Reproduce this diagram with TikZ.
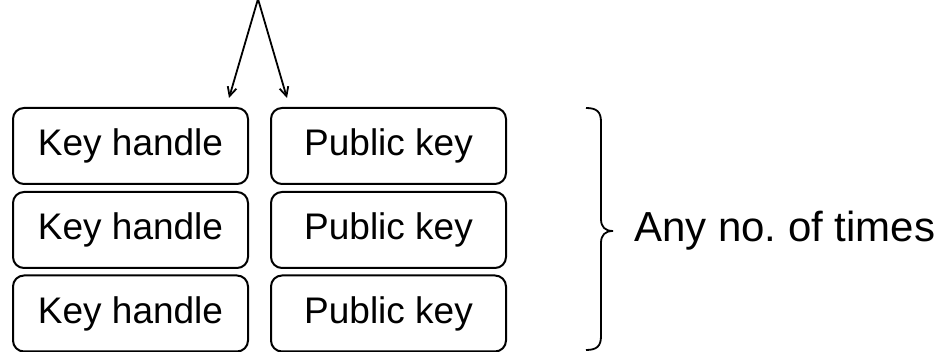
\documentclass[tikz,border=0pt]{standalone}
\usepackage{fontspec}
\setmainfont{Liberation Sans}
\usetikzlibrary{arrows.meta}
\begin{document}
\begin{tikzpicture}[x=1pt,y=-1pt,
  keybox/.style={draw, line width=2pt, rounded corners=11pt, minimum width=235pt,
    minimum height=76pt, inner sep=0pt, font=\fontsize{37}{41}\selectfont},
  link/.style={line width=1.8pt, -{Straight Barb[length=9pt,width=9pt,line width=1.8pt]}},
  bracepath/.style={line width=1.8pt}]
\useasboundingbox (0,0) rectangle (946,352);
% two columns of record boxes
\node[keybox] (kh1) at (130.5,146) {Key handle};
\node[keybox] (kh2) at (130.5,230) {Key handle};
\node[keybox] (kh3) at (130.5,313.5) {Key handle};
\node[keybox] (pk1) at (388.5,146) {Public key};
\node[keybox] (pk2) at (388.5,230) {Public key};
\node[keybox] (pk3) at (388.5,313.5) {Public key};
% incoming pair of arrows
\coordinate (apex) at (258,-1);
\coordinate (toleft) at (229,98);
\coordinate (toright) at (287,98);
\draw[link] (apex) -- (toleft);
\draw[link] (apex) -- (toright);
% curly brace and its label
\coordinate (btop) at (586,108);
\coordinate (btip) at (613,231);
\coordinate (bbot) at (586,350);
\draw[bracepath] (btop) .. controls (597,108) and (601,112) .. (601,122)
  -- (601,219) .. controls (601,227) and (605,231) .. (btip)
  .. controls (605,231) and (601,235) .. (601,243)
  -- (601,336) .. controls (601,346) and (597,350) .. (bbot);
\node[anchor=west, inner sep=0pt, font=\fontsize{42}{46}\selectfont] (lbl) at (634,231) {\frenchspacing Any no. of times};
\end{tikzpicture}
\end{document}
